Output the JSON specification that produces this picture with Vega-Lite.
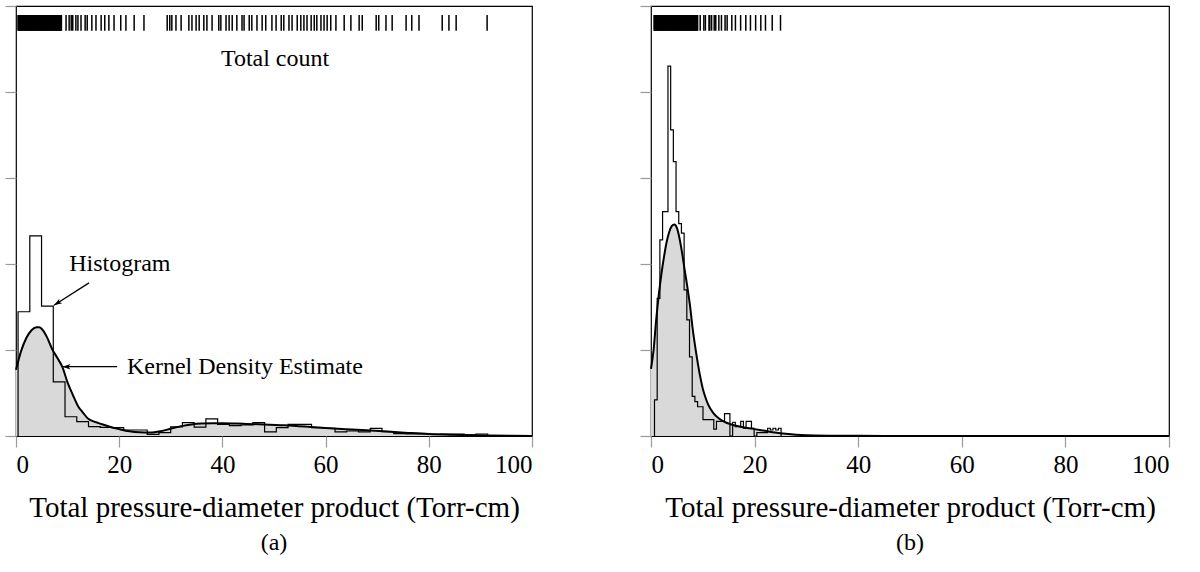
{
  "$schema": "https://vega.github.io/schema/vega-lite/v6.json",
  "background": "white",
  "padding": {"left": 3, "top": 4, "right": 0, "bottom": 0},
  "spacing": 101,
  "config": {
    "view": {"stroke": "black", "strokeWidth": 1.2},
    "font": "Liberation Serif",
    "axis": {"grid": false, "domain": false, "tickColor": "#9a9a9a", "tickSize": 11, "tickWidth": 1.2, "labelColor": "black", "titleColor": "black", "labelFont": "Liberation Serif", "titleFont": "Liberation Serif", "titleFontWeight": "normal"}
  },
  "datasets": {
    "histA": [
      {"i":0,"x":0.4,"h":0},{"i":1,"x":0.4,"h":1.445},{"i":2,"x":2.675,"h":2.326},{"i":3,"x":4.95,"h":1.51},{"i":4,"x":7.225,"h":0.63},{"i":5,"x":9.5,"h":0.224},{"i":6,"x":11.775,"h":0.166},{"i":7,"x":14.05,"h":0.109},{"i":8,"x":16.325,"h":0.1},{"i":9,"x":18.6,"h":0.097},{"i":10,"x":20.875,"h":0.07},{"i":11,"x":23.15,"h":0.07},{"i":12,"x":25.425,"h":0.019},{"i":13,"x":27.7,"h":0.039},{"i":14,"x":29.975,"h":0.105},{"i":15,"x":32.25,"h":0.155},{"i":16,"x":34.525,"h":0.103},{"i":17,"x":36.8,"h":0.198},{"i":18,"x":39.075,"h":0.136},{"i":19,"x":41.35,"h":0.12},{"i":20,"x":43.625,"h":0.128},{"i":21,"x":45.9,"h":0.155},{"i":22,"x":48.175,"h":0.047},{"i":23,"x":50.45,"h":0.097},{"i":24,"x":52.725,"h":0.136},{"i":25,"x":55.0,"h":0.136},{"i":26,"x":57.275,"h":0.097},{"i":27,"x":59.55,"h":0.089},{"i":28,"x":61.825,"h":0.047},{"i":29,"x":64.1,"h":0.058},{"i":30,"x":66.375,"h":0.047},{"i":31,"x":68.65,"h":0.089},{"i":32,"x":70.925,"h":0.05},{"i":33,"x":73.2,"h":0.027},{"i":34,"x":75.475,"h":0.023},{"i":35,"x":77.75,"h":0.023},{"i":36,"x":80.025,"h":0.019},{"i":37,"x":82.3,"h":0.023},{"i":38,"x":84.575,"h":0.023},{"i":39,"x":86.85,"h":0.012},{"i":40,"x":89.125,"h":0.023},{"i":41,"x":91.4,"h":0.023},{"i":42,"x":91.4,"h":0}
    ],
    "histB": [
      {"i":0,"x":0.675,"h":0},{"i":1,"x":0.675,"h":0.42},{"i":2,"x":1.195,"h":1.6},{"i":3,"x":1.715,"h":2.28},{"i":4,"x":2.235,"h":2.61},{"i":5,"x":2.755,"h":2.61},{"i":6,"x":3.275,"h":4.3},{"i":7,"x":3.795,"h":3.56},{"i":8,"x":4.315,"h":3.19},{"i":9,"x":4.835,"h":2.61},{"i":10,"x":5.355,"h":2.47},{"i":11,"x":5.875,"h":2.36},{"i":12,"x":6.395,"h":1.7},{"i":13,"x":6.915,"h":1.35},{"i":14,"x":7.435,"h":0.92},{"i":15,"x":7.955,"h":0.46},{"i":16,"x":8.475,"h":0.4},{"i":17,"x":8.995,"h":0.34},{"i":18,"x":9.515,"h":0.34},{"i":19,"x":10.035,"h":0.19},{"i":20,"x":10.555,"h":0.19},{"i":21,"x":11.075,"h":0.19},{"i":22,"x":11.595,"h":0.19},{"i":23,"x":12.115,"h":0.08},{"i":24,"x":12.635,"h":0.17},{"i":25,"x":13.155,"h":0.17},{"i":26,"x":13.675,"h":0.17},{"i":27,"x":14.195,"h":0.26},{"i":28,"x":14.715,"h":0.26},{"i":29,"x":15.235,"h":0.0},{"i":30,"x":15.755,"h":0.16},{"i":31,"x":16.275,"h":0.11},{"i":32,"x":16.795,"h":0.11},{"i":33,"x":17.315,"h":0.17},{"i":34,"x":17.835,"h":0.09},{"i":35,"x":18.355,"h":0.17},{"i":36,"x":18.875,"h":0.17},{"i":37,"x":19.395,"h":0.09},{"i":38,"x":19.915,"h":0.0},{"i":39,"x":20.435,"h":0.04},{"i":40,"x":20.955,"h":0.04},{"i":41,"x":21.475,"h":0.04},{"i":42,"x":21.995,"h":0.04},{"i":43,"x":22.515,"h":0.09},{"i":44,"x":23.035,"h":0.07},{"i":45,"x":23.555,"h":0.09},{"i":46,"x":24.075,"h":0.07},{"i":47,"x":24.595,"h":0.09},{"i":48,"x":25.115,"h":0.09},{"i":49,"x":25.115,"h":0}
    ],
    "kdeA": [
      {"x":0,"d":0.77},{"x":1,"d":0.99},{"x":2,"d":1.14},{"x":3,"d":1.23},{"x":4,"d":1.265},{"x":4.5,"d":1.265},{"x":5,"d":1.245},{"x":6,"d":1.15},{"x":7,"d":1.01},{"x":8,"d":0.91},{"x":9,"d":0.8},{"x":10,"d":0.62},{"x":11,"d":0.48},{"x":12,"d":0.35},{"x":13,"d":0.27},{"x":14,"d":0.2},{"x":15,"d":0.17},{"x":16,"d":0.15},{"x":18,"d":0.11},{"x":20,"d":0.08},{"x":22,"d":0.055},{"x":24,"d":0.043},{"x":26,"d":0.04},{"x":28,"d":0.055},{"x":30,"d":0.085},{"x":32,"d":0.115},{"x":34,"d":0.135},{"x":36,"d":0.145},{"x":38,"d":0.148},{"x":40,"d":0.148},{"x":44,"d":0.142},{"x":48,"d":0.135},{"x":52,"d":0.125},{"x":56,"d":0.11},{"x":60,"d":0.092},{"x":64,"d":0.078},{"x":68,"d":0.066},{"x":72,"d":0.052},{"x":76,"d":0.036},{"x":80,"d":0.022},{"x":84,"d":0.014},{"x":88,"d":0.01},{"x":92,"d":0.006},{"x":96,"d":0.003},{"x":100,"d":0.001}
    ],
    "kdeB": [
      {"x":0,"d":0.78},{"x":0.5,"d":1.0},{"x":1,"d":1.35},{"x":1.5,"d":1.64},{"x":2,"d":1.88},{"x":2.5,"d":2.08},{"x":3,"d":2.25},{"x":3.5,"d":2.37},{"x":4,"d":2.44},{"x":4.5,"d":2.46},{"x":5,"d":2.42},{"x":5.5,"d":2.3},{"x":6,"d":2.13},{"x":6.5,"d":1.93},{"x":7,"d":1.74},{"x":7.5,"d":1.53},{"x":8,"d":1.27},{"x":8.5,"d":1.05},{"x":9,"d":0.86},{"x":9.5,"d":0.69},{"x":10,"d":0.55},{"x":10.5,"d":0.45},{"x":11,"d":0.37},{"x":12,"d":0.27},{"x":13,"d":0.21},{"x":14,"d":0.17},{"x":15,"d":0.145},{"x":16,"d":0.125},{"x":18,"d":0.1},{"x":20,"d":0.08},{"x":22,"d":0.06},{"x":24,"d":0.04},{"x":26,"d":0.025},{"x":28,"d":0.014},{"x":30,"d":0.008},{"x":35,"d":0.003},{"x":40,"d":0.0015},{"x":50,"d":0.0005},{"x":70,"d":0.0001},{"x":100,"d":0}
    ],
    "rugA": [
      {"v":0.4},{"v":0.5},{"v":0.6},{"v":0.7},{"v":0.8},{"v":0.9},{"v":1.0},{"v":1.1},{"v":1.2},{"v":1.3},{"v":1.4},{"v":1.5},{"v":1.6},{"v":1.7},{"v":1.8},{"v":1.9},{"v":2.0},{"v":2.1},{"v":2.2},{"v":2.3},{"v":2.4},{"v":2.5},{"v":2.6},{"v":2.7},{"v":2.8},{"v":2.9},{"v":3.0},{"v":3.1},{"v":3.2},{"v":3.3},{"v":3.4},{"v":3.5},{"v":3.6},{"v":3.7},{"v":3.8},{"v":3.9},{"v":4.0},{"v":4.1},{"v":4.2},{"v":4.3},{"v":4.4},{"v":4.5},{"v":4.6},{"v":4.7},{"v":4.8},{"v":4.9},{"v":5.0},{"v":5.1},{"v":5.2},{"v":5.3},{"v":5.4},{"v":5.5},{"v":5.6},{"v":5.7},{"v":5.8},{"v":5.9},{"v":6.0},{"v":6.1},{"v":6.2},{"v":6.3},{"v":6.4},{"v":6.5},{"v":6.6},{"v":6.7},{"v":6.8},{"v":6.9},{"v":7.0},{"v":7.1},{"v":7.2},{"v":7.3},{"v":7.4},{"v":7.5},{"v":7.6},{"v":7.7},{"v":7.8},{"v":7.9},{"v":8.0},{"v":8.1},{"v":8.2},{"v":8.3},{"v":8.4},{"v":8.5},{"v":8.6},{"v":8.7},{"v":8.8},
      {"v":9.7},{"v":10.3},{"v":10.7},{"v":11.0},{"v":11.6},{"v":12.0},{"v":12.6},{"v":13.4},{"v":13.8},{"v":14.7},{"v":15.5},{"v":16.5},{"v":17.2},{"v":18.0},{"v":19.0},{"v":20.3},{"v":21.3},{"v":22.9},{"v":24.8},
      {"v":29.3},{"v":29.8},{"v":30.2},{"v":31.0},{"v":32.0},{"v":33.5},{"v":34.1},{"v":34.9},{"v":35.5},{"v":36.4},{"v":37.0},{"v":38.0},{"v":39.3},{"v":39.7},{"v":40.7},{"v":41.3},{"v":41.9},{"v":42.8},{"v":43.8},{"v":44.2},{"v":45.2},{"v":45.7},{"v":46.7},{"v":47.7},{"v":48.4},{"v":49.6},{"v":50.4},{"v":51.4},{"v":51.9},{"v":52.9},{"v":53.5},{"v":54.5},{"v":55.2},{"v":55.8},{"v":56.4},{"v":57.2},{"v":57.8},{"v":58.3},{"v":59.1},{"v":59.7},{"v":60.3},{"v":61.0},{"v":62.0},{"v":63.6},{"v":64.9},{"v":66.5},{"v":67.1},{"v":69.8},{"v":70.3},{"v":71.7},{"v":72.9},{"v":75.6},{"v":76.7},{"v":78.1},{"v":82.6},{"v":83.9},{"v":85.3},{"v":91.3}
    ],
    "rugB": [
      {"v":0.6},{"v":0.7},{"v":0.8},{"v":0.9},{"v":1.0},{"v":1.1},{"v":1.2},{"v":1.3},{"v":1.4},{"v":1.5},{"v":1.6},{"v":1.7},{"v":1.8},{"v":1.9},{"v":2.0},{"v":2.1},{"v":2.2},{"v":2.3},{"v":2.4},{"v":2.5},{"v":2.6},{"v":2.7},{"v":2.8},{"v":2.9},{"v":3.0},{"v":3.1},{"v":3.2},{"v":3.3},{"v":3.4},{"v":3.5},{"v":3.6},{"v":3.7},{"v":3.8},{"v":3.9},{"v":4.0},{"v":4.1},{"v":4.2},{"v":4.3},{"v":4.4},{"v":4.5},{"v":4.6},{"v":4.7},{"v":4.8},{"v":4.9},{"v":5.0},{"v":5.1},{"v":5.2},{"v":5.3},{"v":5.4},{"v":5.5},{"v":5.6},{"v":5.7},{"v":5.8},{"v":5.9},{"v":6.0},{"v":6.1},{"v":6.2},{"v":6.3},{"v":6.4},{"v":6.5},{"v":6.6},{"v":6.7},{"v":6.8},{"v":6.9},{"v":7.0},{"v":7.1},{"v":7.2},{"v":7.3},{"v":7.4},{"v":7.5},{"v":7.6},{"v":7.7},{"v":7.8},{"v":7.9},{"v":8.0},{"v":8.1},{"v":8.2},{"v":8.3},{"v":8.4},{"v":8.5},{"v":8.6},{"v":8.7},{"v":8.8},{"v":8.9},{"v":9.0},
      {"v":9.5},{"v":10.2},{"v":10.5},{"v":11.2},{"v":11.35},{"v":11.7},{"v":12.2},{"v":12.5},{"v":13.1},{"v":13.6},{"v":14.3},{"v":14.7},{"v":15.6},{"v":16.3},{"v":17.3},{"v":18.3},{"v":19.2},{"v":20.2},{"v":21.2},{"v":22.1},{"v":23.4},{"v":25.0}
    ],
    "notesCenter": [{"x":50.2,"y":4.38,"label":"Total count"}],
    "notesLeft": [{"x":10.3,"y":2.0,"label":"Histogram"},{"x":21.5,"y":0.8,"label":"Kernel Density Estimate"}],
    "arrowH": [{"x":14.15,"y":1.78,"x2":7.36,"y2":1.52}],
    "arrowK": [{"x":19.6,"y":0.806,"x2":9.0,"y2":0.806}]
  },
  "hconcat": [
    {
      "width": 516,
      "height": 430,
      "title": {"text": "(a)", "orient": "bottom", "offset": 9, "font": "Liberation Serif", "fontSize": 24, "fontWeight": "normal", "color": "black"},
      "layer": [
        {
          "data": {"name": "kdeA"},
          "mark": {"type": "area", "interpolate": "monotone", "color": "#d9d9d9"},
          "encoding": {
            "x": {"field": "x", "type": "quantitative", "scale": {"domain": [0, 100], "nice": false}, "axis": {"values": [0,20,40,60,80,100], "labelFontSize": 25, "labelPadding": 5, "title": "Total pressure-diameter product (Torr-cm)", "titleFontSize": 29, "titlePadding": 16}},
            "y": {"field": "d", "type": "quantitative", "scale": {"domain": [0, 5], "nice": false}, "axis": {"values": [0,1,2,3,4,5], "labels": false, "title": null}}
          }
        },
        {
          "data": {"name": "histA"},
          "mark": {"type": "line", "interpolate": "step-after", "color": "black", "strokeWidth": 1.2},
          "encoding": {
            "x": {"field": "x", "type": "quantitative"},
            "y": {"field": "h", "type": "quantitative"},
            "order": {"field": "i", "type": "quantitative"}
          }
        },
        {
          "data": {"name": "kdeA"},
          "mark": {"type": "line", "interpolate": "monotone", "color": "black", "strokeWidth": 2},
          "encoding": {
            "x": {"field": "x", "type": "quantitative"},
            "y": {"field": "d", "type": "quantitative"}
          }
        },
        {
          "data": {"name": "rugA"},
          "mark": {"type": "rule", "color": "black", "strokeWidth": 1.5},
          "encoding": {
            "x": {"field": "v", "type": "quantitative"},
            "y": {"datum": 4.713},
            "y2": {"datum": 4.895}
          }
        },
        {
          "data": {"name": "notesCenter"},
          "mark": {"type": "text", "align": "center", "baseline": "middle", "fontSize": 24, "font": "Liberation Serif", "color": "black"},
          "encoding": {
            "x": {"field": "x", "type": "quantitative"},
            "y": {"field": "y", "type": "quantitative"},
            "text": {"field": "label"}
          }
        },
        {
          "data": {"name": "notesLeft"},
          "mark": {"type": "text", "align": "left", "baseline": "middle", "fontSize": 24, "font": "Liberation Serif", "color": "black"},
          "encoding": {
            "x": {"field": "x", "type": "quantitative"},
            "y": {"field": "y", "type": "quantitative"},
            "text": {"field": "label"}
          }
        },
        {
          "data": {"name": "arrowH"},
          "mark": {"type": "rule", "color": "black", "strokeWidth": 1.3},
          "encoding": {
            "x": {"field": "x", "type": "quantitative"},
            "y": {"field": "y", "type": "quantitative"},
            "x2": {"field": "x2"},
            "y2": {"field": "y2"}
          }
        },
        {
          "data": {"name": "arrowH"},
          "mark": {"type": "point", "shape": "M0,0 L-0.55,1.6 L0,1.2 L0.55,1.6 Z", "size": 100, "angle": 237.8, "filled": true, "color": "black", "opacity": 1},
          "encoding": {
            "x": {"field": "x2", "type": "quantitative"},
            "y": {"field": "y2", "type": "quantitative"}
          }
        },
        {
          "data": {"name": "arrowK"},
          "mark": {"type": "rule", "color": "black", "strokeWidth": 1.3},
          "encoding": {
            "x": {"field": "x", "type": "quantitative"},
            "y": {"field": "y", "type": "quantitative"},
            "x2": {"field": "x2"},
            "y2": {"field": "y2"}
          }
        },
        {
          "data": {"name": "arrowK"},
          "mark": {"type": "point", "shape": "M0,0 L-0.55,1.6 L0,1.2 L0.55,1.6 Z", "size": 100, "angle": 270, "filled": true, "color": "black", "opacity": 1},
          "encoding": {
            "x": {"field": "x2", "type": "quantitative"},
            "y": {"field": "y2", "type": "quantitative"}
          }
        }
      ]
    },
    {
      "width": 518,
      "height": 430,
      "title": {"text": "(b)", "orient": "bottom", "offset": 9, "font": "Liberation Serif", "fontSize": 24, "fontWeight": "normal", "color": "black"},
      "layer": [
        {
          "data": {"name": "kdeB"},
          "mark": {"type": "area", "interpolate": "monotone", "color": "#d9d9d9"},
          "encoding": {
            "x": {"field": "x", "type": "quantitative", "scale": {"domain": [0, 100], "nice": false}, "axis": {"values": [0,20,40,60,80,100], "labelFontSize": 25, "labelPadding": 5, "title": "Total pressure-diameter product (Torr-cm)", "titleFontSize": 29, "titlePadding": 16}},
            "y": {"field": "d", "type": "quantitative", "scale": {"domain": [0, 5], "nice": false}, "axis": {"values": [0,1,2,3,4,5], "labels": false, "title": null}}
          }
        },
        {
          "data": {"name": "histB"},
          "mark": {"type": "line", "interpolate": "step-after", "color": "black", "strokeWidth": 1.2},
          "encoding": {
            "x": {"field": "x", "type": "quantitative"},
            "y": {"field": "h", "type": "quantitative"},
            "order": {"field": "i", "type": "quantitative"}
          }
        },
        {
          "data": {"name": "kdeB"},
          "mark": {"type": "line", "interpolate": "monotone", "color": "black", "strokeWidth": 2},
          "encoding": {
            "x": {"field": "x", "type": "quantitative"},
            "y": {"field": "d", "type": "quantitative"}
          }
        },
        {
          "data": {"name": "rugB"},
          "mark": {"type": "rule", "color": "black", "strokeWidth": 1.5},
          "encoding": {
            "x": {"field": "v", "type": "quantitative"},
            "y": {"datum": 4.713},
            "y2": {"datum": 4.895}
          }
        }
      ]
    }
  ]
}
